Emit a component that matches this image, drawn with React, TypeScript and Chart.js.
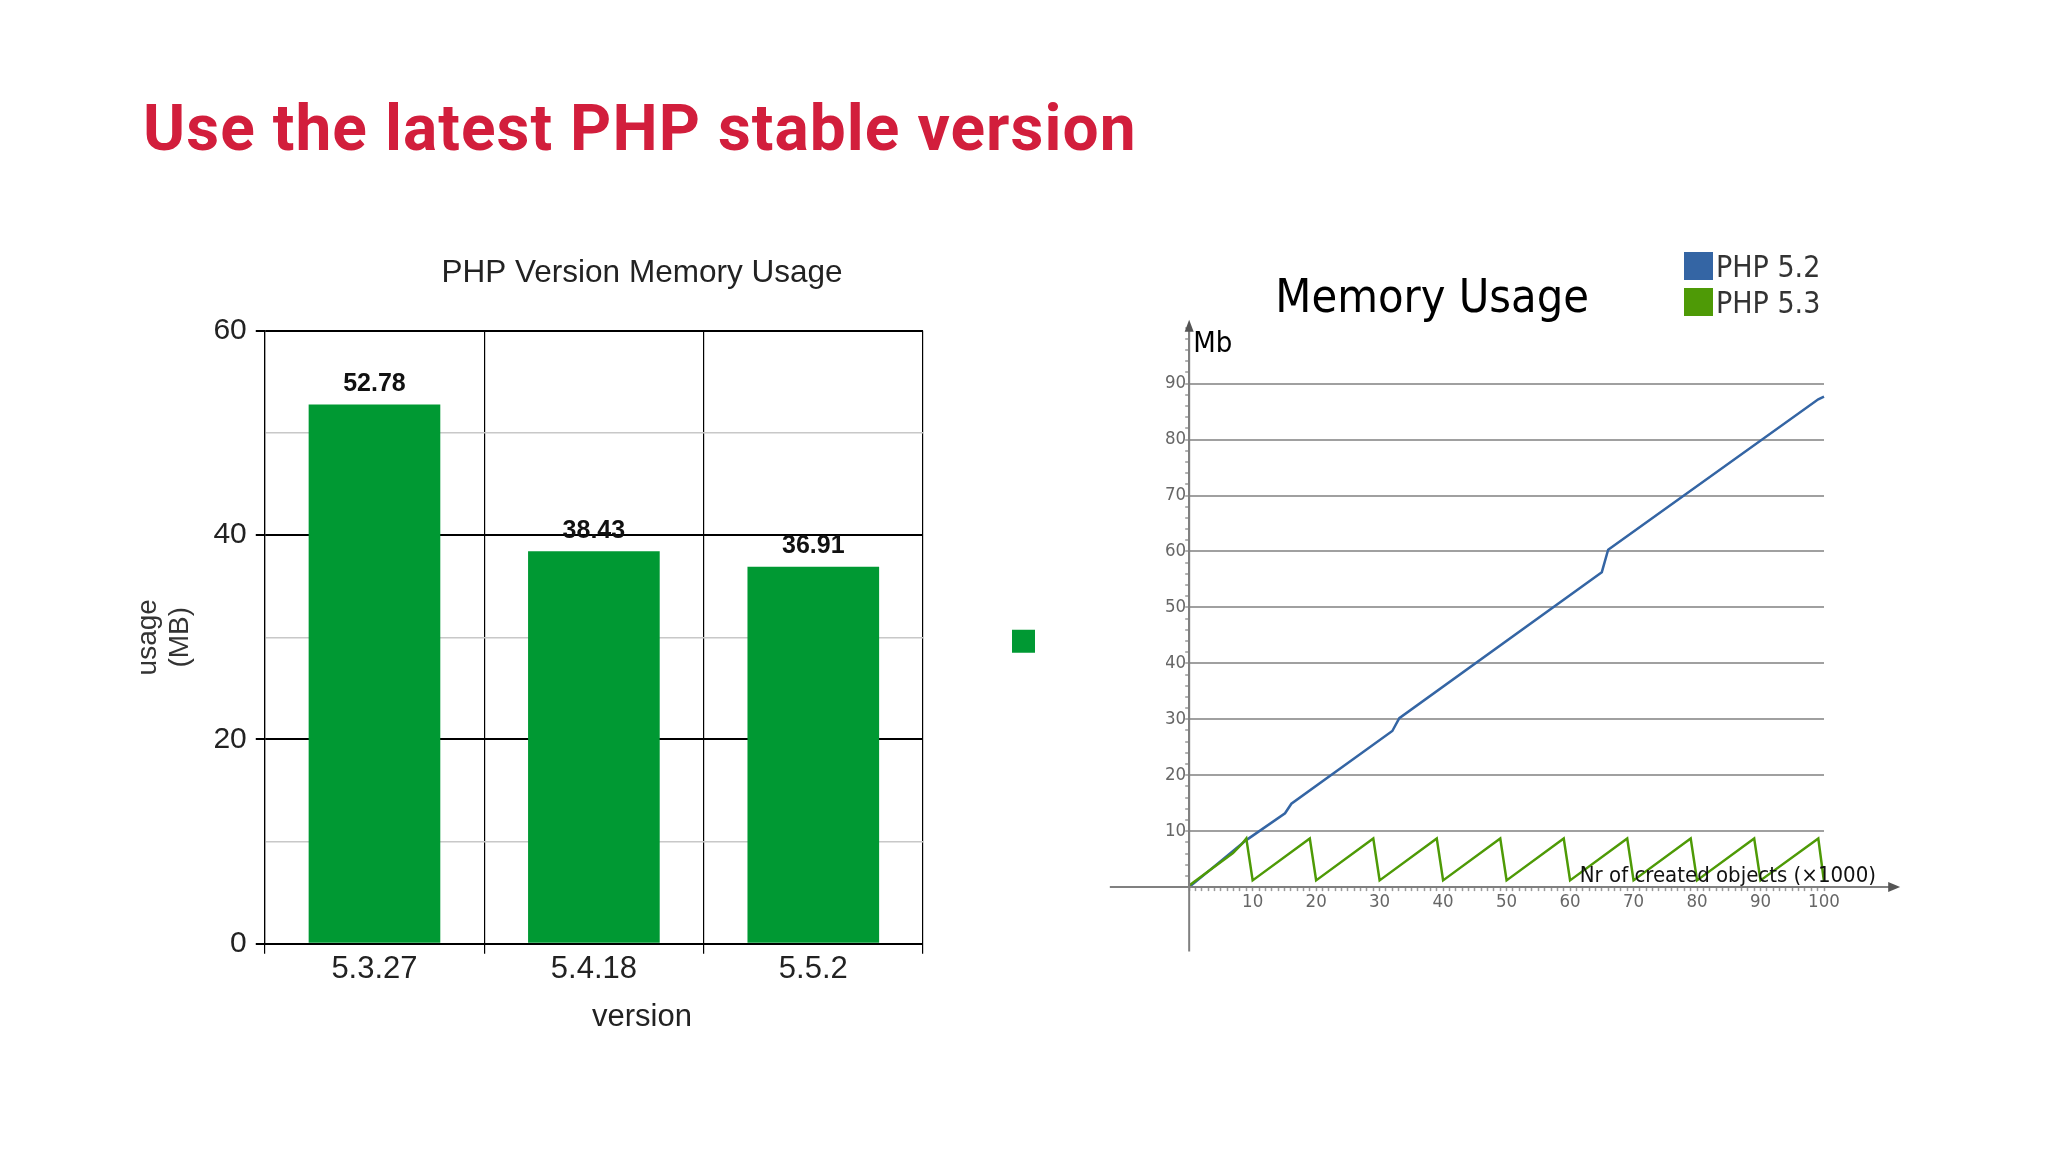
import React, { useEffect, useRef } from "react";
import { Chart, registerables } from "chart.js";

Chart.register(...registerables);

// ---------- data ----------
const slideTitle = "Use the latest PHP stable version";

const barTitle = "PHP Version Memory Usage";
const versions = ["5.3.27", "5.4.18", "5.5.2"];
const usageMB = [52.78, 38.43, 36.91];
const barXTitle = "version";
const barYTitle = ["usage", "(MB)"];

const lineTitle = "Memory Usage";
const seriesNames = ["PHP 5.2", "PHP 5.3"];
const seriesColors = ["#3465a4", "#4e9a06"];
const php52X = [0, 9, 15.1, 16.1, 32, 33.1, 65, 66, 99.1, 100];
const php52Y = [0, 8.4, 13.2, 14.9, 27.9, 30.2, 56.3, 60.3, 87.2, 87.7];
const php53X = [0, 6.9, 8.3, 9, 10, 19, 20, 29, 30, 39, 40, 49, 50, 59, 60, 69, 70, 79, 80, 89, 90, 99.1, 100];
const php53Y = [0.3, 6.1, 7.7, 8.7, 1.2, 8.7, 1.2, 8.7, 1.2, 8.7, 1.2, 8.7, 1.2, 8.7, 1.2, 8.7, 1.2, 8.7, 1.2, 8.7, 1.2, 8.7, 1.0];
const lineYTitle = "Mb";
const lineXTitle = "Nr of created objects (\u00d71000)";

const ARIAL = '"Liberation Sans", Arial, sans-serif';
const DJC = '"DejaVu Sans Condensed", "DejaVu Sans", sans-serif';

function BarChart() {
  const ref = useRef<HTMLCanvasElement>(null);
  useEffect(() => {
    const extras = {
      id: "barExtras",
      afterDatasetsDraw(chart: any) {
        const ctx = chart.ctx;
        const meta = chart.getDatasetMeta(0);
        ctx.save();
        ctx.font = `bold 25px ${ARIAL}`;
        ctx.fillStyle = "#111";
        ctx.textAlign = "center";
        ctx.textBaseline = "bottom";
        meta.data.forEach((el: any, i: number) => {
          ctx.fillText(usageMB[i].toFixed(2), el.x, el.y - 8);
        });
        // x-axis title, centred under the whole chart like the original
        ctx.font = `31px ${ARIAL}`;
        ctx.fillStyle = "#222";
        ctx.textBaseline = "middle";
        ctx.fillText(barXTitle, chart.width / 2, chart.chartArea.bottom + 74);
        ctx.restore();
      },
    };
    const chart = new Chart(ref.current!, {
      type: "bar",
      data: {
        labels: versions,
        datasets: [
          {
            label: "",
            data: usageMB,
            backgroundColor: "#009933",
            borderWidth: 0,
            barPercentage: 0.6,
            categoryPercentage: 1,
          },
        ],
      },
      options: {
        animation: false,
        responsive: false,
        devicePixelRatio: 1,
        layout: { padding: { left: 0, right: 0, top: 0, bottom: 53 } },
        plugins: {
          title: {
            display: true,
            text: barTitle,
            color: "#222",
            font: { family: ARIAL, size: 31.5, weight: "normal" },
            padding: { top: 54, bottom: 39 },
          },
          legend: {
            display: true,
            position: "right",
            fullSize: false,
            title: { display: true, text: " ", padding: 0, font: { size: 6.7, lineHeight: 1.2 } },
            labels: { boxWidth: 23, boxHeight: 23, padding: 89, font: { size: 238 } },
          },
          tooltip: { enabled: false },
        },
        scales: {
          x: {
            grid: { color: "#000", lineWidth: 1.2, tickLength: 10, offset: true },
            border: { color: "#000", width: 2 },
            ticks: { color: "#222", font: { family: ARIAL, size: 31 }, padding: -3 },
          },
          y: {
            min: 0,
            max: 60,
            ticks: {
              stepSize: 10,
              color: "#222",
              font: { family: ARIAL, size: 30 },
              padding: 9,
              callback: (v: any) => (Number(v) % 20 === 0 ? String(v) : ""),
            },
            grid: {
              color: (c: any) => (c.tick.value % 20 === 0 ? "#000" : "#c8c8c8"),
              lineWidth: (c: any) => (c.tick.value % 20 === 0 ? 2 : 1.5),
              tickColor: (c: any) => (c.tick.value % 20 === 0 ? "#000" : "rgba(0,0,0,0)"),
              tickLength: 9,
            },
            border: { color: "#000", width: 1.2 },
            title: {
              display: true,
              text: barYTitle,
              color: "#333",
              font: { family: ARIAL, size: 28, lineHeight: 1.15 },
              padding: { top: 12, bottom: 8 },
            },
          },
        },
      },
      plugins: [extras],
    } as any);
    return () => chart.destroy();
  }, []);
  return (
    <canvas
      ref={ref}
      width={1044}
      height={838}
      style={{ position: "absolute", left: 120, top: 200, width: 1044, height: 838 }}
    />
  );
}

function LineChart() {
  const ref = useRef<HTMLCanvasElement>(null);
  useEffect(() => {
    const decor = {
      id: "decor",
      afterDraw(chart: any) {
        const { ctx, chartArea: a, scales } = chart;
        const x = scales.x;
        const y = scales.y;
        const x0 = x.getPixelForValue(0);
        const y0 = y.getPixelForValue(0);
        ctx.save();
        // axis extensions
        ctx.strokeStyle = "#808080";
        ctx.lineWidth = 2;
        ctx.beginPath();
        ctx.moveTo(x.getPixelForValue(-12.5), y0);
        ctx.lineTo(x.getPixelForValue(110.5), y0);
        ctx.moveTo(x0, y.getPixelForValue(-11.5));
        ctx.lineTo(x0, a.top - 2);
        ctx.stroke();
        // arrows
        ctx.fillStyle = "#555";
        const xe = x.getPixelForValue(112);
        ctx.beginPath();
        ctx.moveTo(xe, y0);
        ctx.lineTo(xe - 12, y0 - 5);
        ctx.lineTo(xe - 12, y0 + 5);
        ctx.closePath();
        ctx.fill();
        const yt = a.top - 8;
        ctx.beginPath();
        ctx.moveTo(x0, yt);
        ctx.lineTo(x0 - 4.5, yt + 12);
        ctx.lineTo(x0 + 4.5, yt + 12);
        ctx.closePath();
        ctx.fill();
        // axis titles
        ctx.fillStyle = "#000";
        ctx.textBaseline = "alphabetic";
        ctx.font = `29px ${DJC}`;
        ctx.textAlign = "left";
        ctx.fillText(lineYTitle, a.left + 4, a.top + 24.5);
        ctx.font = `22px ${DJC}`;
        ctx.fillStyle = "#111";
        ctx.textAlign = "right";
        ctx.fillText(lineXTitle, a.right + 52, a.bottom - 5);
        // chart title
        ctx.fillStyle = "#000";
        ctx.font = `46.5px ${DJC}`;
        ctx.textAlign = "center";
        ctx.fillText(lineTitle, a.left + 243, a.top - 16);
        // legend
        ctx.font = `30px ${DJC}`;
        ctx.textAlign = "left";
        chart.data.datasets.forEach((ds: any, i: number) => {
          const top = a.top - 75.7 + i * 36;
          ctx.fillStyle = ds.borderColor;
          ctx.fillRect(a.right - 140, top, 29, 28);
          ctx.fillStyle = "#333";
          ctx.fillText(ds.label, a.right - 108, top + 25);
        });
        ctx.restore();
      },
    };
    const chart = new Chart(ref.current!, {
      type: "line",
      data: {
        datasets: [
          {
            label: seriesNames[0],
            data: php52X.map((v, i) => ({ x: v, y: php52Y[i] })),
            borderColor: seriesColors[0],
            backgroundColor: seriesColors[0],
            borderWidth: 2.5,
            pointRadius: 0,
            tension: 0,
            clip: false,
            order: 1,
          },
          {
            label: seriesNames[1],
            data: php53X.map((v, i) => ({ x: v, y: php53Y[i] })),
            borderColor: seriesColors[1],
            backgroundColor: seriesColors[1],
            borderWidth: 2.5,
            pointRadius: 0,
            tension: 0,
            clip: false,
            order: 0,
          },
        ],
      },
      options: {
        animation: false,
        responsive: false,
        devicePixelRatio: 1,
        layout: { padding: { left: 86, right: 156, top: 97.7, bottom: 66.7 } },
        plugins: {
          legend: { display: false },
          title: { display: false },
          tooltip: { enabled: false },
        },
        scales: {
          x: {
            type: "linear",
            min: 0,
            max: 100,
            ticks: {
              stepSize: 1,
              autoSkip: false,
              maxRotation: 0,
              color: "#666",
              font: { family: DJC, size: 18.5 },
              padding: 0,
              callback: (v: any) => (Number(v) % 10 === 0 && Number(v) > 0 ? String(v) : ""),
            },
            grid: { drawOnChartArea: false, tickLength: 4, tickColor: "#999", tickWidth: 1.5 },
            border: { color: "#808080", width: 2 },
          },
          y: {
            type: "linear",
            min: 0,
            max: 100,
            ticks: {
              stepSize: 2,
              autoSkip: false,
              color: "#666",
              font: { family: DJC, size: 18.5 },
              padding: -1,
              callback: (v: any) =>
                Number(v) % 10 === 0 && Number(v) > 0 && Number(v) < 100 ? String(v) : "",
            },
            grid: {
              color: (c: any) =>
                c.tick && c.tick.value % 10 === 0 && c.tick.value > 0 && c.tick.value < 100
                  ? "#a0a0a0"
                  : "rgba(0,0,0,0)",
              lineWidth: 2,
              tickLength: 4,
              tickColor: "#999",
              tickWidth: 1.5,
            },
            border: { color: "#808080", width: 2 },
          },
        },
      },
      plugins: [decor],
    } as any);
    return () => chart.destroy();
  }, []);
  return (
    <canvas
      ref={ref}
      width={900}
      height={750}
      style={{ position: "absolute", left: 1080, top: 230, width: 900, height: 750 }}
    />
  );
}

export default function App() {
  return (
    <div
      style={{
        position: "absolute",
        left: 0,
        top: 0,
        width: 2048,
        height: 1152,
        overflow: "hidden",
        background: "#ffffff",
      }}
    >
      <div
        style={{
          position: "absolute",
          left: 143,
          top: 97,
          fontFamily: "Roboto, sans-serif",
          fontWeight: 700,
          fontSize: 64,
          letterSpacing: 1.05,
          lineHeight: 1,
          color: "#d21e3c",
          whiteSpace: "nowrap",
        }}
      >
        {slideTitle}
      </div>
      <BarChart />
      <LineChart />
    </div>
  );
}
